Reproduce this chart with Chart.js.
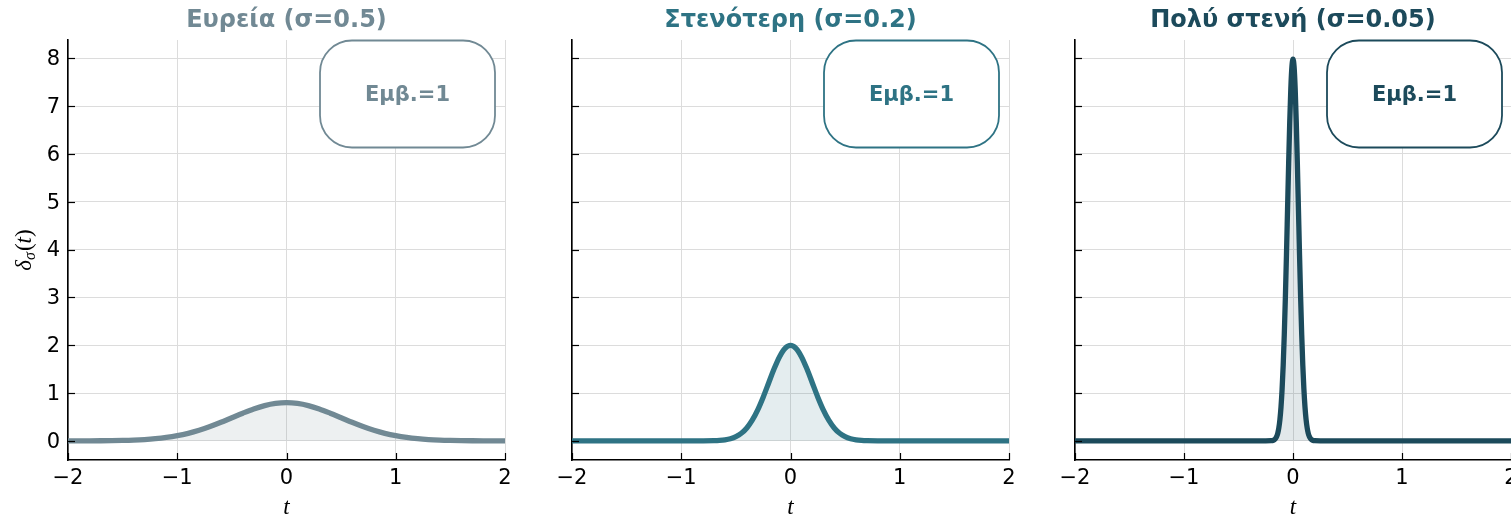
<!DOCTYPE html>
<html><head><meta charset="utf-8">
<script src="https://cdn.jsdelivr.net/npm/chart.js@4.4.1/dist/chart.umd.min.js"></script>
<style>
html,body{margin:0;padding:0;background:#fff;overflow:hidden}
#wrap{position:relative;width:1511px;height:518px;background:#fff}
canvas{position:absolute;top:0}
</style></head><body><div id="wrap">
<canvas id="c1" width="538" height="518" style="left:0px"></canvas>
<canvas id="c2" width="503" height="518" style="left:538px"></canvas>
<canvas id="c3" width="470" height="518" style="left:1041px"></canvas>
</div>
<script>
// ---- data ----
const panelTitles = ['Ευρεία (σ=0.5)', 'Στενότερη (σ=0.2)', 'Πολύ στενή (σ=0.05)'];
const areaLabel = 'Εμβ.=1';
const lineColors = ['#718994', '#2e7384', '#1c4a5b'];
const xTicks = [-2, -1, 0, 1, 2];
const xTickLabels = ['−2', '−1', '0', '1', '2'];
const yTicks = [0, 1, 2, 3, 4, 5, 6, 7, 8];
const yTickLabels = ['0', '1', '2', '3', '4', '5', '6', '7', '8'];

const tWide = [-2,-1.9,-1.8,-1.7,-1.6,-1.5,-1.4,-1.3,-1.2,-1.1,-1,-0.9,-0.8,-0.7,-0.6,-0.5,-0.4,-0.3,-0.2,-0.1,0,
  0.1,0.2,0.3,0.4,0.5,0.6,0.7,0.8,0.9,1,1.1,1.2,1.3,1.4,1.5,1.6,1.7,1.8,1.9,2];
const yWide = [0.0003,0.0006,0.0012,0.0025,0.0048,0.0089,0.0158,0.0271,0.0448,0.0709,0.108,0.158,0.222,0.299,0.388,0.484,0.579,0.667,0.737,0.782,0.798,
  0.782,0.737,0.667,0.579,0.484,0.388,0.299,0.222,0.158,0.108,0.0709,0.0448,0.0271,0.0158,0.0089,0.0048,0.0025,0.0012,0.0006,0.0003];

const tMid = [-2,-1.5,-1,-0.9,-0.8,-0.7,-0.65,-0.6,-0.55,-0.5,-0.45,-0.4,-0.35,-0.3,-0.25,-0.2,-0.15,-0.1,-0.05,0,
  0.05,0.1,0.15,0.2,0.25,0.3,0.35,0.4,0.45,0.5,0.55,0.6,0.65,0.7,0.8,0.9,1,1.5,2];
const yMid = [0,0,0,0.0001,0.0007,0.0044,0.0102,0.0222,0.0454,0.0876,0.159,0.270,0.432,0.648,0.913,1.210,1.506,1.760,1.933,1.995,
  1.933,1.760,1.506,1.210,0.913,0.648,0.432,0.270,0.159,0.0876,0.0454,0.0222,0.0102,0.0044,0.0007,0.0001,0,0,0];

const tNarrow = [-2,-1,-0.5,-0.25,-0.2,-0.19,-0.18,-0.17,-0.16,-0.15,-0.14,-0.13,-0.12,-0.11,-0.1,-0.09,-0.08,-0.07,-0.06,-0.05,-0.04,-0.03,-0.02,-0.01,0,
  0.01,0.02,0.03,0.04,0.05,0.06,0.07,0.08,0.09,0.1,0.11,0.12,0.13,0.14,0.15,0.16,0.17,0.18,0.19,0.2,0.25,0.5,1,2];
const yNarrow = [0,0,0,0,0.003,0.006,0.012,0.025,0.048,0.089,0.158,0.271,0.448,0.709,1.080,1.579,2.218,2.995,3.884,4.839,5.794,6.665,7.366,7.821,7.979,
  7.821,7.366,6.665,5.794,4.839,3.884,2.995,2.218,1.579,1.080,0.709,0.448,0.271,0.158,0.089,0.048,0.025,0.012,0.006,0.003,0,0,0,0];

const seriesT = [tWide, tMid, tNarrow];
const seriesY = [yWide, yMid, yNarrow];

// ---- layout ----
const canvasIds = ['c1', 'c2', 'c3'];
const plotLeft = [68, 34, 34];
const padRight = [33, 32, 0];
const Y_MIN = -0.4, Y_MAX = 8.38;

function hexA(hex, a) {
  const n = parseInt(hex.slice(1), 16);
  return `rgba(${(n >> 16) & 255},${(n >> 8) & 255},${n & 255},${a})`;
}

function roundRect(ctx, x, y, w, h, r) {
  ctx.beginPath();
  ctx.moveTo(x + r, y);
  ctx.lineTo(x + w - r, y);
  ctx.arcTo(x + w, y, x + w, y + r, r);
  ctx.lineTo(x + w, y + h - r);
  ctx.arcTo(x + w, y + h, x + w - r, y + h, r);
  ctx.lineTo(x + r, y + h);
  ctx.arcTo(x, y + h, x, y + h - r, r);
  ctx.lineTo(x, y + r);
  ctx.arcTo(x, y, x + r, y, r);
  ctx.closePath();
}

function makeExtras(idx) {
  return {
    id: 'extras' + idx,
    afterDraw(chart) {
      const ctx = chart.ctx;
      const a = chart.chartArea;
      const xs = chart.scales.x, ys = chart.scales.y;
      const col = lineColors[idx];
      ctx.save();
      // inward ticks
      ctx.strokeStyle = '#000';
      ctx.lineWidth = 1.2;
      xTicks.forEach(v => {
        const px = Math.round(xs.getPixelForValue(v)) + 0.5;
        ctx.beginPath(); ctx.moveTo(px, a.bottom); ctx.lineTo(px, a.bottom - 7); ctx.stroke();
      });
      yTicks.forEach(v => {
        const py = Math.round(ys.getPixelForValue(v)) + 0.5;
        ctx.beginPath(); ctx.moveTo(a.left, py); ctx.lineTo(a.left + 7, py); ctx.stroke();
      });
      // title
      ctx.fillStyle = col;
      ctx.font = 'bold 24px "DejaVu Sans"';
      ctx.textAlign = 'center';
      ctx.textBaseline = 'middle';
      ctx.fillText(panelTitles[idx], (a.left + a.right) / 2, 21);
      // x label
      ctx.fillStyle = '#000';
      ctx.font = 'italic 23px "Liberation Serif"';
      ctx.fillText('t', xs.getPixelForValue(0), 508);
      // annotation box
      const bx = a.left + 252, by = a.top + 0.5, bw = 175, bh = 107;
      roundRect(ctx, bx, by, bw, bh, 32);
      ctx.fillStyle = '#fff';
      ctx.fill();
      ctx.strokeStyle = col;
      ctx.lineWidth = 1.8;
      ctx.stroke();
      ctx.fillStyle = col;
      ctx.font = 'bold 21px "DejaVu Sans"';
      ctx.textAlign = 'center';
      ctx.textBaseline = 'middle';
      ctx.fillText(areaLabel, bx + bw / 2, by + bh / 2 + 2);
      // y label (first panel only)
      if (idx === 0) {
        ctx.translate(24, 250);
        ctx.rotate(-Math.PI / 2);
        ctx.fillStyle = '#000';
        ctx.textAlign = 'left';
        ctx.textBaseline = 'alphabetic';
        const parts = [
          { t: 'δ', f: 'italic 23px "Liberation Serif"', dy: 0 },
          { t: 'σ', f: 'italic 16px "Liberation Serif"', dy: 4 },
          { t: '(', f: '23px "Liberation Serif"', dy: 0 },
          { t: 't', f: 'italic 23px "Liberation Serif"', dy: 0 },
          { t: ')', f: '23px "Liberation Serif"', dy: 0 }
        ];
        let total = 0;
        parts.forEach(p => { ctx.font = p.f; p.w = ctx.measureText(p.t).width + (p.t === 'σ' ? 1 : 0); total += p.w; });
        let x = -total / 2;
        parts.forEach(p => { ctx.font = p.f; ctx.fillText(p.t, x, 7 + p.dy); x += p.w; });
      }
      ctx.restore();
    }
  };
}

for (let i = 0; i < 3; i++) {
  const col = lineColors[i];
  new Chart(document.getElementById(canvasIds[i]), {
    type: 'line',
    data: {
      datasets: [{
        data: seriesT[i].map((x, k) => ({ x: x, y: seriesY[i][k] })),
        borderColor: col,
        backgroundColor: hexA(col, 0.13),
        borderWidth: 5.3,
        fill: 'origin',
        pointRadius: 0,
        cubicInterpolationMode: 'monotone',
        borderCapStyle: 'round',
        borderJoinStyle: 'round'
      }]
    },
    options: {
      responsive: false,
      animation: false,
      events: [],
      layout: { padding: { left: 0, right: padRight[i], top: 40, bottom: 0 } },
      plugins: { legend: { display: false }, tooltip: { enabled: false }, title: { display: false } },
      scales: {
        x: {
          type: 'linear', min: -2, max: 2,
          afterBuildTicks: s => { s.ticks = xTicks.map(v => ({ value: v })); },
          afterFit: s => { s.height = 58; s.paddingLeft = 0; s.paddingRight = 0; },
          ticks: {
            callback: v => xTickLabels[xTicks.indexOf(v)],
            font: { family: 'DejaVu Sans', size: 21 }, color: '#000',
            padding: 6, maxRotation: 0, autoSkip: false
          },
          grid: { color: '#dcdcdc', lineWidth: 1, drawTicks: false },
          border: { display: true, color: '#000', width: 1.6 }
        },
        y: {
          type: 'linear', min: Y_MIN, max: Y_MAX,
          afterBuildTicks: s => { s.ticks = yTicks.map(v => ({ value: v })); },
          afterFit: s => { s.width = plotLeft[i]; s.paddingTop = 0; s.paddingBottom = 0; },
          ticks: {
            callback: v => (i === 0 ? yTickLabels[yTicks.indexOf(v)] : ''),
            font: { family: 'DejaVu Sans', size: 21 }, color: '#000',
            padding: 8, autoSkip: false, labelOffset: 1.5
          },
          grid: { color: '#dcdcdc', lineWidth: 1, drawTicks: false },
          border: { display: true, color: '#000', width: 1.6 }
        }
      }
    },
    plugins: [makeExtras(i)]
  });
}
</script>
</body></html>
